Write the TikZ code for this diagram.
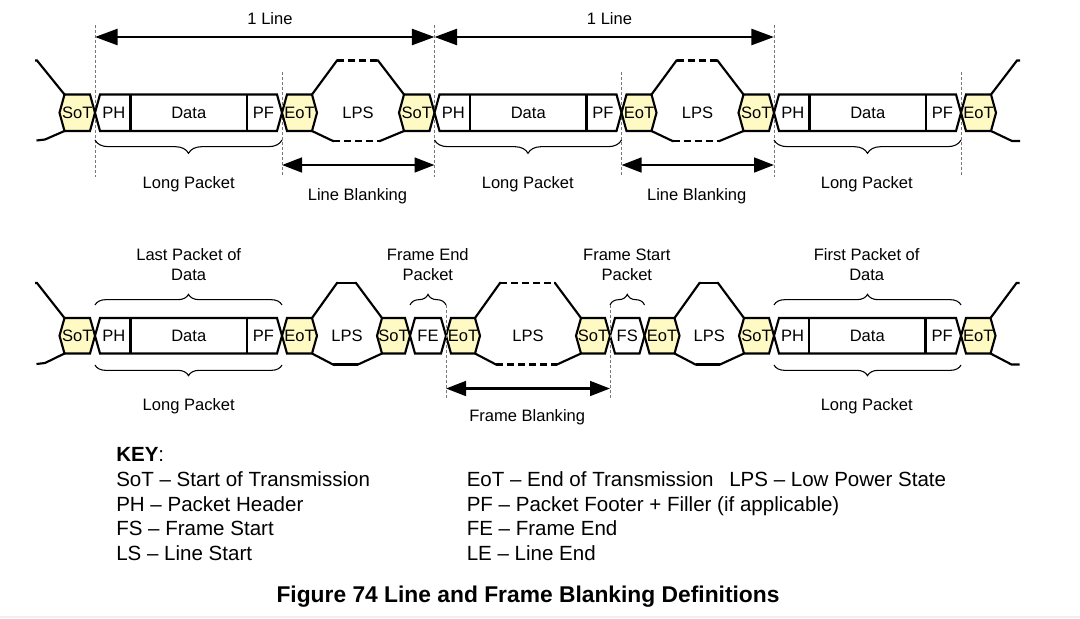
\documentclass[tikz,border=0pt]{standalone}
\usepackage{fontspec}
\setmainfont{Liberation Sans}
\usetikzlibrary{arrows.meta,decorations.pathreplacing}
\definecolor{hexfill}{RGB}{255,250,196}
\definecolor{guidegray}{RGB}{120,120,120}
% row geometry: top, bottom, middle, label baseline, envelope top, envelope bottom
\newcommand\setrow[6]{\def\rT{#1}\def\rB{#2}\def\rM{#3}\def\rL{#4}\def\rU{#5}\def\rD{#6}}
\newcommand\hexseg[5]{%
  \draw[wire, fill=#5] (#2,\rM) -- (#2+5,\rT) -- (#3-5,\rT) -- (#3,\rM) -- (#3-5,\rB) -- (#2+5,\rB) -- cycle;
  \node[lbl] (#1) at ({(#2+#3)/2},\rL) {#4};}
\newcommand\packet[5]{%
  \draw[wire, fill=white] (#2,\rM) -- (#2+5,\rT) -- (#5-5,\rT) -- (#5,\rM) -- (#5-5,\rB) -- (#2+5,\rB) -- cycle;
  \draw[wire] (#3,\rT) -- (#3,\rB) (#4,\rT) -- (#4,\rB);
  \node[lbl] (#1ph) at ({(#2+#3)/2+1},\rL) {PH};
  \node[lbl] (#1data) at ({(#3+#4)/2},\rL) {Data};
  \node[lbl] (#1pf) at ({(#4+#5)/2-1},\rL) {PF};}
\newcommand\lpsenv[4]{%
  \draw[wire] (#2-5,\rT) -- (#2+20,\rU) -- (#2+21,\rU);
  \draw[wire,#4] (#2+20,\rU) -- (#3-21,\rU);
  \draw[wire] (#3-22,\rU) -- (#3-21,\rU) -- (#3+5,\rT);
  \draw[wire] (#2-5,\rB) -- (#2+16,\rD) -- (#2+17,\rD);
  \draw[wire,#4] (#2+16,\rD) -- (#3-19,\rD);
  \draw[wire] (#3-20,\rD) -- (#3-19,\rD) -- (#3+5,\rB);
  \node[lbl] (#1) at ({(#2+#3)/2},\rL) {LPS};}
\newcommand\leftlead[1]{%
  \draw[wire] (#1+5,\rT) -- (#1-22.5,\rU) -- (#1-24.5,\rU);
  \draw[wire] (#1+5,\rB) -- (#1-14.5,\rD-1.5) -- (#1-23,\rD-0.5);}
\newcommand\rightlead[1]{%
  \draw[wire] (#1-5,\rT) -- (#1+21,\rU) -- (#1+24,\rU);
  \draw[wire] (#1-5,\rB) -- (#1+16,\rD) -- (#1+24,\rD);}
\begin{document}
\begin{tikzpicture}[x=0.75pt,y=-0.75pt,
  wire/.style={line width=1.6pt, line join=miter},
  lbl/.style={font=\fontsize{12.4}{15}\selectfont, inner sep=0pt, anchor=base},
  twoline/.style={font=\fontsize{12.4}{15}\selectfont, inner sep=0pt, align=center, anchor=north},
  keytxt/.style={font=\fontsize{15.4}{18}\selectfont, inner sep=0pt, anchor=base west},
  guide/.style={draw=guidegray, line width=0.7pt, dash pattern=on 2.25pt off 1.5pt},
  bracestyle/.style={decorate, line width=0.8pt, decoration={brace, amplitude=#1}},
  lpsdash/.style={dash pattern=on 5.25pt off 3pt},
  spanarrow/.style={line width=2pt, {Triangle[length=17pt,width=12pt]}-{Triangle[length=17pt,width=12pt]}},
  blankarrow/.style={line width=2pt, {Triangle[length=15pt,width=11pt]}-{Triangle[length=15pt,width=11pt]}},
]
\useasboundingbox (0,0) rectangle (1080,618);
\fill[gray!12] (0,615.5) rectangle (1080,618);

% ---------- guides (top) ----------
\foreach \n/\x/\ya in {ga/95/25, gb/434.5/25, gc/774/25, gd/282/72, ge/621.5/72, gf/961/72} {
  \coordinate (\n-t) at (\x,\ya);
  \coordinate (\n-b) at (\x,177);
  \draw[guide] (\n-t) -- (\n-b);
}

% ---------- top row ----------
\setrow{94.5}{131}{112.75}{118.5}{60.5}{141}
\leftlead{59.5}
\lpsenv{t-lps1}{317}{399}{lpsdash}
\lpsenv{t-lps2}{656.5}{738.5}{lpsdash}
\rightlead{996}
\hexseg{t-sot1}{59.5}{95}{SoT}{hexfill}
\packet{t-p1-}{95}{130.5}{247}{282}
\hexseg{t-eot1}{282}{317}{EoT}{hexfill}
\hexseg{t-sot2}{399}{434.5}{SoT}{hexfill}
\packet{t-p2-}{434.5}{470}{586.5}{621.5}
\hexseg{t-eot2}{621.5}{656.5}{EoT}{hexfill}
\hexseg{t-sot3}{738.5}{774}{SoT}{hexfill}
\packet{t-p3-}{774}{809.5}{926}{961}
\hexseg{t-eot3}{961}{996}{EoT}{hexfill}

% span arrows
\draw[spanarrow] (ga-t |- 0,37) -- (gb-t |- 0,37);
\draw[spanarrow] (gb-t |- 0,37) -- (gc-t |- 0,37);
\node[lbl] (line1) at (270,24) {1 Line};
\node[lbl] (line2) at (609.5,24) {1 Line};
\draw[blankarrow] (gd-b |- 0,165) -- (gb-b |- 0,165);
\draw[blankarrow] (ge-b |- 0,165) -- (gc-b |- 0,165);
\node[lbl] (lb1) at (357.5,200.5) {Line Blanking};
\node[lbl] (lb2) at (696.7,200.5) {Line Blanking};

% braces top
\draw[bracestyle=10pt] (282,140) -- (95,140);
\draw[bracestyle=10pt] (621.5,140) -- (434.5,140);
\draw[bracestyle=10pt] (961,140) -- (774,140);
\node[lbl] (lp1) at (188.7,188.5) {Long Packet};
\node[lbl] (lp2) at (527.8,188.5) {Long Packet};
\node[lbl] (lp3) at (866.8,188.5) {Long Packet};

% ---------- bottom row ----------
\setrow{318}{353.5}{335.75}{341}{283}{364.5}
\leftlead{59.5}
\lpsenv{b-lps1}{317}{377}{solid}
\lpsenv{b-lps2}{480}{576}{lpsdash}
\lpsenv{b-lps3}{679.5}{739}{solid}
\rightlead{995.5}
\hexseg{b-sot1}{59.5}{95}{SoT}{hexfill}
\packet{b-p1-}{95}{130.5}{247}{282}
\hexseg{b-eot1}{282}{317}{EoT}{hexfill}
\hexseg{b-sot2}{377}{410}{SoT}{hexfill}
\hexseg{b-fe}{410}{446}{FE}{white}
\hexseg{b-eot2}{446}{480}{EoT}{hexfill}
\hexseg{b-sot3}{576}{610}{SoT}{hexfill}
\hexseg{b-fs}{610}{644.5}{FS}{white}
\hexseg{b-eot3}{644.5}{679.5}{EoT}{hexfill}
\hexseg{b-sot4}{739}{774}{SoT}{hexfill}
\packet{b-p2-}{774}{809}{925.5}{961}
\hexseg{b-eot4}{961}{995.5}{EoT}{hexfill}

% braces bottom row
\draw[bracestyle=8pt] (95,305) -- (282,305);
\draw[bracestyle=8pt] (774,305) -- (961,305);
\draw[bracestyle=8pt] (410,305) -- (446,305);
\draw[bracestyle=8pt] (610,305) -- (644.5,305);
\draw[bracestyle=8pt] (282,365) -- (95,365);
\draw[bracestyle=8pt] (961,365) -- (774,365);

\node[twoline] (lastpk) at (188.7,248) {Last Packet of\\Data};
\node[twoline] (fepk) at (427.8,248) {Frame End\\Packet};
\node[twoline] (fspk) at (626.8,249) {Frame Start\\Packet};
\node[twoline] (firstpk) at (866.7,248) {First Packet of\\Data};
\node[lbl] (lp4) at (188.7,410.7) {Long Packet};
\node[lbl] (lp5) at (866.7,410.7) {Long Packet};

% frame blanking
\coordinate (gg-t) at (446,305); \coordinate (gg-b) at (446,398);
\coordinate (gh-t) at (610,305); \coordinate (gh-b) at (610,398);
\draw[guide] (gg-t) -- (gg-b);
\draw[guide] (gh-t) -- (gh-b);
\draw[blankarrow] (gg-b |- 0,388.5) -- (gh-b |- 0,388.5);
\node[lbl] (fb) at (527.2,421.7) {Frame Blanking};

% ---------- key ----------
\node[keytxt] (key) at (116,461) {\textbf{KEY}:};
\node[keytxt] (k1) at (116,486.5) {SoT – Start of Transmission};
\node[keytxt] (k2) at (116,511) {PH – Packet Header};
\node[keytxt] (k3) at (116,535.5) {FS – Frame Start};
\node[keytxt] (k4) at (116,560) {LS – Line Start};
\node[keytxt] (k5) at (466.5,486.5) {EoT – End of Transmission};
\node[keytxt] (k6) at (729,486.5) {LPS – Low Power State};
\node[keytxt] (k7) at (466.5,511) {PF – Packet Footer + Filler (if applicable)};
\node[keytxt] (k8) at (466.5,535.5) {FE – Frame End};
\node[keytxt] (k9) at (466.5,560) {LE – Line End};
\node[font=\fontsize{17.1}{20}\selectfont\bfseries, inner sep=0pt, anchor=base] (title) at (528,602) {Figure 74 Line and Frame Blanking Definitions};
\end{tikzpicture}
\end{document}
